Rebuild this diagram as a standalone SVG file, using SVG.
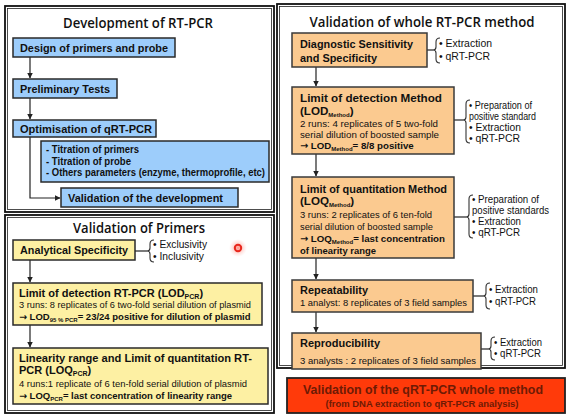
<svg xmlns="http://www.w3.org/2000/svg" width="572" height="420" viewBox="0 0 572 420">
<defs>
<style>
.panel{fill:#fff;stroke:#111;stroke-width:1.8}
.pin{fill:none;stroke:#222;stroke-width:0.8}
.title{font-family:"Open Sans","Liberation Sans",sans-serif;font-weight:600;font-size:15px;fill:#111}
.bl{fill:#9dcdfb;stroke:#2a2a2a;stroke-width:1.5}
.ye{fill:#fdf0a3;stroke:#2a2a2a;stroke-width:1.5}
.or{fill:#fbca90;stroke:#3a3a3a;stroke-width:1.5}
.rd{fill:#ff3a0a;stroke:#222;stroke-width:1.8}
.b{font-family:"Liberation Sans",Arial,sans-serif;font-weight:bold;font-size:11px;fill:#111}
.b2{font-family:"Liberation Sans",Arial,sans-serif;font-weight:bold;font-size:11.6px;fill:#111}
.bs{font-family:"Liberation Sans",Arial,sans-serif;font-weight:bold;font-size:10px;fill:#111}
.ba{font-family:"Liberation Sans",Arial,sans-serif;font-weight:bold;font-size:9.5px;fill:#111}
.ba2{font-family:"Liberation Sans",Arial,sans-serif;font-weight:bold;font-size:9.7px;fill:#111}
.ar{font-family:"DejaVu Sans",sans-serif;font-weight:bold}
.r{font-family:"Liberation Sans",Arial,sans-serif;font-size:9.5px;fill:#111}
.bu{font-family:"Liberation Sans",Arial,sans-serif;font-size:10px;fill:#111}
.sub{font-size:7px}
.sub6{font-size:6px}
.con{fill:none;stroke:#222;stroke-width:1.2}
.br{fill:none;stroke:#333;stroke-width:1.1}
.rt{font-family:"Liberation Sans",Arial,sans-serif;font-weight:bold;fill:#6e1a05}
</style>
<marker id="ah" viewBox="0 0 6 6" refX="5.5" refY="3" markerWidth="6" markerHeight="6" orient="auto" markerUnits="userSpaceOnUse">
<path d="M0,0 L6,3 L0,6 z" fill="#222"/>
</marker>
<radialGradient id="glow">
<stop offset="0" stop-color="#ff6a5a" stop-opacity="0.7"/>
<stop offset="1" stop-color="#ffb0a8" stop-opacity="0"/>
</radialGradient>
</defs>
<rect width="572" height="420" fill="#fff"/>

<g id="panel-development">
<rect class="panel" x="5" y="6" width="269" height="206"/>
<rect class="pin" x="7.5" y="8.5" width="264" height="201"/>
<text class="title" x="138" y="28" text-anchor="middle" textLength="150" lengthAdjust="spacingAndGlyphs">Development of RT-PCR</text>
</g>
<g id="panel-primers">
<rect class="panel" x="5" y="215" width="269" height="198"/>
<rect class="pin" x="7.5" y="217.5" width="264" height="193"/>
<text class="title" x="139" y="233" text-anchor="middle" textLength="132" lengthAdjust="spacingAndGlyphs">Validation of Primers</text>
</g>
<g id="panel-method">
<rect class="panel" x="277" y="4" width="288" height="364"/>
<rect class="pin" x="279.5" y="6.5" width="283" height="359"/>
<text class="title" x="422" y="27" text-anchor="middle" textLength="225" lengthAdjust="spacingAndGlyphs">Validation of whole RT-PCR method</text>
</g>

<g id="connectors">
<line class="con" x1="30" y1="57" x2="30" y2="78" marker-end="url(#ah)"/>
<line class="con" x1="30" y1="98" x2="30" y2="119" marker-end="url(#ah)"/>
<path class="con" d="M30,137 V198 H60" marker-end="url(#ah)"/>
<line class="con" x1="30" y1="260" x2="30" y2="282" marker-end="url(#ah)"/>
<line class="con" x1="30" y1="325" x2="30" y2="347" marker-end="url(#ah)"/>
<line class="con" x1="316" y1="67" x2="316" y2="86" marker-end="url(#ah)"/>
<line class="con" x1="316" y1="154" x2="316" y2="176" marker-end="url(#ah)"/>
<line class="con" x1="316" y1="258" x2="316" y2="279" marker-end="url(#ah)"/>
<line class="con" x1="316" y1="312" x2="316" y2="332" marker-end="url(#ah)"/>
<line class="con" x1="135" y1="251" x2="147" y2="251"/>
<line class="con" x1="427" y1="50" x2="433" y2="50"/>
<line class="con" x1="454" y1="120" x2="463" y2="120"/>
<line class="con" x1="454" y1="217" x2="466" y2="217"/>
<line class="con" x1="473" y1="296" x2="483" y2="296"/>
<line class="con" x1="478" y1="349" x2="488" y2="349"/>
</g>

<g id="design">
<rect class="bl" x="13" y="38" width="162" height="19"/>
<text class="b" x="20" y="51.5" textLength="148" lengthAdjust="spacingAndGlyphs">Design of primers and probe</text>
</g>
<g id="preliminary">
<rect class="bl" x="13" y="79" width="104" height="19"/>
<text class="b" x="20" y="92.5" textLength="90" lengthAdjust="spacingAndGlyphs">Preliminary Tests</text>
</g>
<g id="optimisation">
<rect class="bl" x="13" y="120" width="143" height="17"/>
<text class="b" x="20" y="132.5" textLength="132" lengthAdjust="spacingAndGlyphs">Optimisation of qRT-PCR</text>
</g>
<g id="optimisation-details">
<rect class="bl" x="41" y="141" width="228" height="41"/>
<text class="bs" x="46" y="153" textLength="93" lengthAdjust="spacingAndGlyphs">- Titration of primers</text>
<text class="bs" x="46" y="164.5" textLength="85" lengthAdjust="spacingAndGlyphs">- Titration of probe</text>
<text class="bs" x="46" y="176" textLength="219" lengthAdjust="spacingAndGlyphs">- Others parameters (enzyme, thermoprofile, etc)</text>
</g>
<g id="validation-development">
<rect class="bl" x="61" y="188" width="177" height="19"/>
<text class="b" x="68" y="201.5" textLength="155" lengthAdjust="spacingAndGlyphs">Validation of the development</text>
</g>

<g id="analytical-specificity">
<rect class="ye" x="13" y="240" width="122" height="20"/>
<text class="b" x="20" y="254" textLength="108" lengthAdjust="spacingAndGlyphs">Analytical Specificity</text>
<path class="br" d="M154,240 Q150,240 150,244 L150,248 Q150,251 147,251 Q150,251 150,254 L150,258 Q150,262 154,262"/>
<text class="bu" x="153" y="247.5" textLength="54" lengthAdjust="spacingAndGlyphs">• Exclusivity</text>
<text class="bu" x="153" y="259.5" textLength="51" lengthAdjust="spacingAndGlyphs">• Inclusivity</text>
</g>
<g id="lod-pcr">
<rect class="ye" x="13" y="283" width="249" height="42"/>
<text class="b" x="19" y="297">Limit of detection RT-PCR (LOD<tspan class="sub" dy="2">PCR</tspan><tspan dy="-2">)</tspan></text>
<text class="r" x="19" y="308" textLength="232" lengthAdjust="spacingAndGlyphs">3 runs: 8 replicates of 6 two-fold serial dilution of plasmid</text>
<text class="ba" x="19" y="320"><tspan class="ar">→</tspan> LOD<tspan class="sub6" dy="2">95 % PCR</tspan><tspan dy="-2">= 23/24 positive for dilution of plasmid</tspan></text>
</g>
<g id="loq-pcr">
<rect class="ye" x="13" y="348" width="255" height="56"/>
<text class="b" x="19" y="362" textLength="233" lengthAdjust="spacingAndGlyphs">Linearity range and Limit of quantitation RT-</text>
<text class="b" x="19" y="374">PCR (LOQ<tspan class="sub" dy="2">PCR</tspan><tspan dy="-2">)</tspan></text>
<text class="r" x="19" y="387" textLength="228" lengthAdjust="spacingAndGlyphs">4 runs:1 replicate of 6 ten-fold serial dilution of plasmid</text>
<text class="ba" x="19" y="399"><tspan class="ar">→</tspan> LOQ<tspan class="sub6" dy="2">PCR</tspan><tspan dy="-2">= last concentration of linearity range</tspan></text>
</g>

<g id="diagnostic">
<rect class="or" x="292" y="33" width="135" height="34"/>
<text class="b2" x="300" y="48" textLength="113" lengthAdjust="spacingAndGlyphs">Diagnostic Sensitivity</text>
<text class="b2" x="300" y="62" textLength="77" lengthAdjust="spacingAndGlyphs">and Specificity</text>
<path class="br" d="M440,38 Q436,38 436,42 L436,47 Q436,50 433,50 Q436,50 436,53 L436,59 Q436,63 440,63"/>
<text class="bu" x="439" y="47" textLength="53" lengthAdjust="spacingAndGlyphs">• Extraction</text>
<text class="bu" x="439" y="60" textLength="51" lengthAdjust="spacingAndGlyphs">• qRT-PCR</text>
</g>
<g id="lod-method">
<rect class="or" x="292" y="87" width="162" height="67"/>
<text class="b2" x="300" y="102" textLength="142" lengthAdjust="spacingAndGlyphs">Limit of detection Method</text>
<text class="b2" x="300" y="115">(LOD<tspan class="sub6" dy="2">Method</tspan><tspan dy="-2">)</tspan></text>
<text class="r" x="300" y="127" textLength="138" lengthAdjust="spacingAndGlyphs">2 runs: 4 replicates of 5 two-fold</text>
<text class="r" x="300" y="138" textLength="139" lengthAdjust="spacingAndGlyphs">serial dilution of boosted sample</text>
<text class="ba2" x="300" y="149"><tspan class="ar">→</tspan> LOD<tspan class="sub6" dy="2">Method</tspan><tspan dy="-2">= 8/8 positive</tspan></text>
<path class="br" d="M470,100 Q466,100 466,104 L466,117 Q466,120 463,120 Q466,120 466,123 L466,139 Q466,143 470,143"/>
<text class="bu" x="469" y="109" textLength="63" lengthAdjust="spacingAndGlyphs">• Preparation of</text>
<text class="bu" x="469" y="120" textLength="67" lengthAdjust="spacingAndGlyphs">positive standard</text>
<text class="bu" x="469" y="131" textLength="52" lengthAdjust="spacingAndGlyphs">• Extraction</text>
<text class="bu" x="469" y="142" textLength="51" lengthAdjust="spacingAndGlyphs">• qRT-PCR</text>
</g>
<g id="loq-method">
<rect class="or" x="292" y="177" width="162" height="81"/>
<text class="b2" x="300" y="193" textLength="147" lengthAdjust="spacingAndGlyphs">Limit of quantitation Method</text>
<text class="b2" x="300" y="205">(LOQ<tspan class="sub6" dy="2">Method</tspan><tspan dy="-2">)</tspan></text>
<text class="r" x="300" y="217.5" textLength="132" lengthAdjust="spacingAndGlyphs">3 runs: 2 replicates of 6 ten-fold</text>
<text class="r" x="300" y="229.5" textLength="133" lengthAdjust="spacingAndGlyphs">serial dilution of boosted sample</text>
<text class="ba2" x="300" y="242"><tspan class="ar">→</tspan> LOQ<tspan class="sub6" dy="2">Method</tspan><tspan dy="-2">= last concentration</tspan></text>
<text class="ba2" x="300" y="253.5" textLength="76" lengthAdjust="spacingAndGlyphs">of linearity range</text>
<path class="br" d="M473,195 Q469,195 469,199 L469,214 Q469,217 466,217 Q469,217 469,220 L469,234 Q469,238 473,238"/>
<text class="bu" x="472" y="203" textLength="67" lengthAdjust="spacingAndGlyphs">• Preparation of</text>
<text class="bu" x="472" y="214" textLength="77" lengthAdjust="spacingAndGlyphs">positive standards</text>
<text class="bu" x="472" y="225" textLength="49" lengthAdjust="spacingAndGlyphs">• Extraction</text>
<text class="bu" x="472" y="236" textLength="48" lengthAdjust="spacingAndGlyphs">• qRT-PCR</text>
</g>
<g id="repeatability">
<rect class="or" x="292" y="280" width="181" height="32"/>
<text class="b2" x="300" y="294" textLength="68" lengthAdjust="spacingAndGlyphs">Repeatability</text>
<text class="r" x="300" y="306" textLength="167" lengthAdjust="spacingAndGlyphs">1 analyst: 8 replicates of 3 field samples</text>
<path class="br" d="M490,283 Q486,283 486,287 L486,293 Q486,296 483,296 Q486,296 486,299 L486,305 Q486,309 490,309"/>
<text class="bu" x="489" y="293" textLength="49" lengthAdjust="spacingAndGlyphs">• Extraction</text>
<text class="bu" x="489" y="305" textLength="47" lengthAdjust="spacingAndGlyphs">• qRT-PCR</text>
</g>
<g id="reproducibility">
<rect class="or" x="292" y="333" width="189" height="36"/>
<text class="b2" x="300" y="347" textLength="80" lengthAdjust="spacingAndGlyphs">Reproducibility</text>
<text class="r" x="300" y="363.5" textLength="176" lengthAdjust="spacingAndGlyphs">3 analysts : 2 replicates of 3 field samples</text>
<path class="br" d="M495,337 Q491,337 491,341 L491,346 Q491,349 488,349 Q491,349 491,352 L491,356 Q491,360 495,360"/>
<text class="bu" x="494" y="346" textLength="48" lengthAdjust="spacingAndGlyphs">• Extraction</text>
<text class="bu" x="494" y="357" textLength="47" lengthAdjust="spacingAndGlyphs">• qRT-PCR</text>
</g>
<g id="validation-whole">
<rect class="rd" x="287" y="378" width="278" height="35"/>
<text class="rt" x="423" y="394" font-size="12.4" text-anchor="middle" textLength="240" lengthAdjust="spacingAndGlyphs">Validation of the qRT-PCR whole method</text>
<text class="rt" x="422" y="407" font-size="8.6" text-anchor="middle" textLength="193" lengthAdjust="spacingAndGlyphs">(from DNA extraction to qRT-PCR analysis)</text>
</g>
<g id="pointer">
<circle cx="238" cy="248" r="9" fill="url(#glow)"/>
<circle cx="238" cy="248" r="3.2" fill="none" stroke="#e8281e" stroke-width="2"/>
</g>
</svg>
